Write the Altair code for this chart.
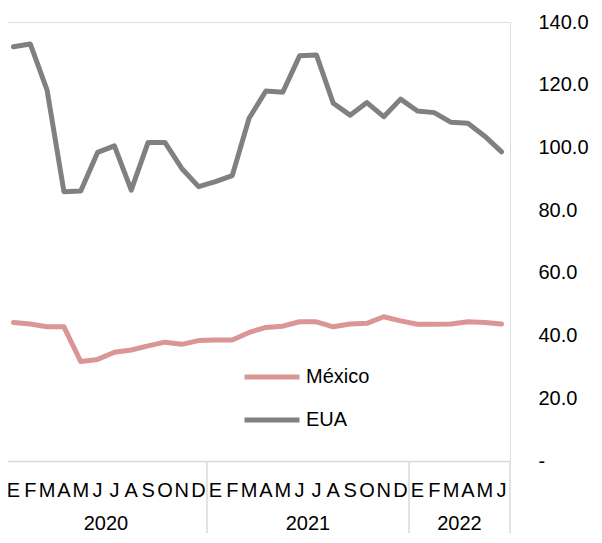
import altair as alt
import pandas as pd

# ---- data ----
months = ["E", "F", "M", "A", "M", "J", "J", "A", "S", "O", "N", "D",
          "E", "F", "M", "A", "M", "J", "J", "A", "S", "O", "N", "D",
          "E", "F", "M", "A", "M", "J"]
years = ["2020", "2021", "2022"]
year_sizes = [12, 12, 6]
series_names = ["México", "EUA"]
series_colors = ["#DA9694", "#808080"]
mexico = [44.2, 43.7, 42.8, 42.8, 31.7, 32.4, 34.7, 35.4, 36.7, 37.9, 37.2, 38.4,
          38.6, 38.6, 41.0, 42.6, 43.0, 44.4, 44.4, 42.8, 43.7, 43.9, 46.0, 44.7,
          43.6, 43.6, 43.7, 44.4, 44.2, 43.7]
eua = [132.1, 133.0, 118.3, 85.9, 86.1, 98.4, 100.5, 86.4, 101.6, 101.6, 93.3, 87.5,
       89.1, 91.0, 109.3, 118.0, 117.6, 129.2, 129.5, 114.1, 110.3, 114.3, 109.8, 115.4,
       111.6, 111.1, 108.0, 107.7, 103.6, 98.6]
y_ticks = [0, 20, 40, 60, 80, 100, 120, 140]

FONT = "Liberation Sans"
W, H = 505, 439
N = len(months)

rows = []
for name, vals in zip(series_names, [mexico, eua]):
    for i, v in enumerate(vals):
        rows.append({"pos": i + 0.5, "series": name, "value": v})
df = pd.DataFrame(rows)

month_df = pd.DataFrame({"pos": [i + 0.5 for i in range(N)], "label": months})

bounds = [0]
for s in year_sizes:
    bounds.append(bounds[-1] + s)
year_df = pd.DataFrame({
    "pos": [(bounds[k] + bounds[k + 1]) / 2 for k in range(len(years))],
    "label": years,
})
sep_df = pd.DataFrame({"pos": bounds})

xscale = alt.Scale(domain=[0, N], nice=False, zero=False)
yscale = alt.Scale(domain=[0, 140], nice=False)

lines = alt.Chart(df).mark_line(
    strokeWidth=5, strokeCap="round", strokeJoin="round"
).encode(
    x=alt.X("pos:Q", scale=xscale,
            axis=alt.Axis(labels=False, ticks=False, grid=False, title=None,
                          domainColor="#d9d9d9", domainWidth=1.5)),
    y=alt.Y("value:Q", scale=yscale,
            axis=alt.Axis(orient="right", values=y_ticks, grid=False, ticks=False,
                          domain=False, title=None, labelPadding=28,
                          labelFontSize=20, labelFont=FONT, labelColor="black",
                          labelAlign="left",
                          labelExpr="datum.value == 0 ? '-' : format(datum.value, '.1f')")),
    color=alt.Color("series:N",
                    scale=alt.Scale(domain=series_names, range=series_colors),
                    sort=series_names,
                    legend=alt.Legend(title=None, orient="none", legendX=237, legendY=325,
                                      symbolType="stroke", symbolSize=3025,
                                      symbolStrokeWidth=5, labelFontSize=20,
                                      labelFont=FONT, labelColor="black",
                                      labelOffset=4, rowPadding=3)),
    order=alt.Order("pos:Q"),
)

seps = alt.Chart(sep_df).mark_rule(color="#d9d9d9", strokeWidth=1.5).encode(
    x=alt.X("pos:Q", scale=xscale),
    y=alt.value(H),
    y2=alt.value(H + 120),
)

month_text = alt.Chart(month_df).mark_text(
    fontSize=20, font=FONT, color="black", baseline="middle", align="center"
).encode(
    x=alt.X("pos:Q", scale=xscale),
    y=alt.value(H + 30),
    text="label:N",
)

year_text = alt.Chart(year_df).mark_text(
    fontSize=20, font=FONT, color="black", baseline="middle", align="center"
).encode(
    x=alt.X("pos:Q", scale=xscale),
    y=alt.value(H + 63),
    text="label:N",
)

chart = alt.layer(seps, lines, month_text, year_text).properties(
    width=W, height=H,
    autosize=alt.AutoSizeParams(type="none"),
    padding={"left": -3, "top": 14, "right": 82, "bottom": 72},
).configure_view(stroke=None).configure(background="white")

chart.save("out.html", embed_options={"renderer": "svg", "actions": False})
